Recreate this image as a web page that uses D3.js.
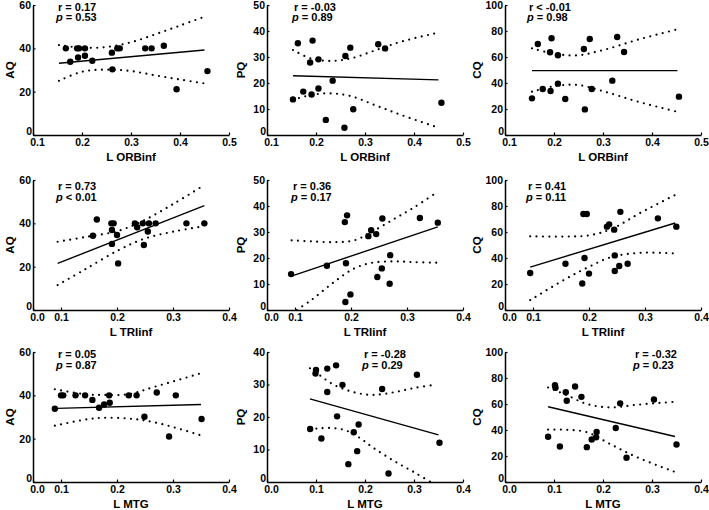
<!DOCTYPE html>
<html><head><meta charset="utf-8">
<script src="https://cdn.jsdelivr.net/npm/d3@7"></script>
<style>
body{margin:0;background:#fff;}
svg{display:block;font-family:"Liberation Sans",Arial,sans-serif;font-weight:bold;}
</style></head><body>
<svg id="chart" width="709" height="510"></svg>
<script>
// ---------- titles / ticks ----------
const rowTitles = ["L ORBinf", "L TRIinf", "L MTG"];
const colTitles = ["AQ", "PQ", "CQ"];

const xTicksORB = [0.1, 0.2, 0.3, 0.4, 0.5];
const xLabelsORB = ["0.1", "0.2", "0.3", "0.4", "0.5"];
const xTicksShort = [0.05, 0.1, 0.2, 0.3, 0.4];
const xLabelsShort = ["0.0", "0.1", "0.2", "0.3", "0.4"];
const xTicksFull = [0, 0.1, 0.2, 0.3, 0.4];
const xLabelsFull = ["0.0", "0.1", "0.2", "0.3", "0.4"];

const yTicksAQ = [0, 20, 40, 60];
const yTicksPQ50 = [0, 10, 20, 30, 40, 50];
const yTicksPQ40 = [0, 10, 20, 30, 40];
const yTicksCQ = [0, 20, 40, 60, 80, 100];

// ---------- row 1: L ORBinf ----------
const aqOrbX = [0.167,0.176,0.19,0.194,0.192,0.206,0.206,0.221,0.261,0.262,0.272,0.277,0.329,0.342,0.367,0.393,0.456];
const aqOrbY = [40,33.8,40,40,35.8,40,36.6,34.3,38,30.3,40,40,40,40,41.2,21.1,29.5];
const aqOrbFitX = [0.153, 0.45], aqOrbFitY = [33.1, 39.2];
const aqOrbCiX = [0.153, 0.2, 0.25, 0.3, 0.35, 0.4, 0.45];
const aqOrbCiUp = [41.5, 40.3, 40.6, 42.8, 46.5, 50.5, 54.6];
const aqOrbCiLo = [25, 29.2, 30.2, 29.5, 27.5, 25.6, 23.8];

const pqOrbX = [0.153,0.163,0.174,0.188,0.191,0.193,0.205,0.205,0.22,0.234,0.26,0.258,0.27,0.276,0.327,0.341,0.456];
const pqOrbY = [13.7,35.3,16.7,27.9,15.6,36.3,29.1,17.9,5.8,20.9,30.4,2.8,33.6,9.9,34.9,33.3,12.4];
const pqOrbFitX = [0.153, 0.45], pqOrbFitY = [22.8, 21.2];
const pqOrbCiX = [0.153, 0.19, 0.231, 0.272, 0.32, 0.374, 0.45];
const pqOrbCiUp = [32.7, 29.4, 28.5, 29.5, 32.5, 35.9, 39.4];
const pqOrbCiLo = [13.5, 15.4, 16, 14.9, 11.5, 7.7, 2.8];

const cqOrbX = [0.155,0.167,0.177,0.192,0.193,0.195,0.208,0.208,0.223,0.261,0.263,0.273,0.277,0.319,0.329,0.343,0.455];
const cqOrbY = [28.2,70,35.4,63.6,33.8,74.4,61.3,39.5,27.7,66.2,19.7,73.8,35.4,41.8,75.4,63.8,29.5];
const cqOrbFitX = [0.155, 0.452], cqOrbFitY = [49.5, 49.5];
const cqOrbCiX = [0.155, 0.2, 0.248, 0.302, 0.37, 0.452];
const cqOrbCiUp = [66.7, 62.5, 61.3, 65.5, 73.2, 81.3];
const cqOrbCiLo = [33.3, 37.5, 38.5, 33.5, 25.8, 17.8];

// ---------- row 2: L TRIinf ----------
const aqTriX = [0.164,0.157,0.19,0.194,0.191,0.191,0.2,0.202,0.232,0.236,0.246,0.248,0.255,0.257,0.269,0.324,0.356];
const aqTriY = [41.8,34.3,40,40,36.9,30.5,34.6,21.5,40,38.2,40,30,36.2,40,40,40,40];
const aqTriFitX = [0.094, 0.356], aqTriFitY = [21.5, 48.2];
const aqTriCiX = [0.094, 0.142, 0.202, 0.249, 0.303, 0.356];
const aqTriCiUp = [31.5, 33.6, 36.5, 41.5, 49.3, 57.7];
const aqTriCiLo = [11.5, 18.6, 27.5, 32.9, 36.3, 38.7];

const pqTriX = [0.093,0.157,0.189,0.193,0.191,0.19,0.199,0.231,0.236,0.245,0.256,0.247,0.255,0.27,0.269,0.323,0.355];
const pqTriY = [13.8,17,33.8,36.4,18,3.1,6,28.4,30.7,29.2,35.2,12.7,16,21.1,10.1,35.4,33.6];
const pqTriFitX = [0.095, 0.355], pqTriFitY = [13.1, 32];
const pqTriCiX = [0.094, 0.129, 0.17, 0.206, 0.236, 0.277, 0.313, 0.355];
const pqTriCiUp = [26.8, 26.4, 26.1, 26.8, 29.9, 35, 39.5, 45.5];
const pqTriCiLo = [-1.3, 3.8, 10.8, 16, 18.1, 18.7, 18.4, 18.2];

const cqTriX = [0.095,0.158,0.19,0.196,0.192,0.188,0.2,0.232,0.236,0.245,0.256,0.246,0.246,0.254,0.269,0.323,0.356];
const cqTriY = [28.5,35.6,73.8,73.8,40,20.4,28,64.1,65.9,61.8,75.5,42,30,33.8,35.6,70.5,64.1];
const cqTriFitX = [0.095, 0.354], cqTriFitY = [33, 66.9];
const cqTriCiX = [0.095, 0.157, 0.199, 0.24, 0.293, 0.354];
const cqTriCiUp = [56.7, 56.5, 57.3, 62.3, 75, 88.5];
const cqTriCiLo = [7.6, 23.5, 33, 40.7, 44, 43.5];

// ---------- row 3: L MTG ----------
const aqMtgX = [0.089,0.1,0.104,0.126,0.143,0.156,0.168,0.177,0.187,0.186,0.221,0.235,0.249,0.271,0.293,0.305,0.351];
const aqMtgY = [33.8,40,40,40,40,37.9,34.3,35.8,36.6,40,40,40,30.1,41.3,21,40,29.1];
const aqMtgFitX = [0.092, 0.35], aqMtgFitY = [34, 35.8];
const aqMtgCiX = [0.089, 0.143, 0.173, 0.22, 0.268, 0.35];
const aqMtgCiUp = [42.8, 40.5, 40.2, 40.5, 44, 50.2];
const aqMtgCiLo = [26, 28.8, 29.6, 29.3, 27.5, 21.5];

const pqMtgX = [0.088,0.1,0.099,0.111,0.123,0.123,0.141,0.143,0.154,0.166,0.177,0.184,0.187,0.235,0.248,0.306,0.352];
const pqMtgY = [16.3,34.5,33.4,13.4,34.9,27.7,35.9,20.2,29.9,5.5,15.3,9.5,17.7,28.6,2.6,33,12.1];
const pqMtgFitX = [0.0876, 0.35], pqMtgFitY = [25.6, 14.5];
const pqMtgCiX = [0.0876, 0.107, 0.134, 0.162, 0.19, 0.217, 0.259, 0.3, 0.343];
const pqMtgCiUp = [35, 32.9, 30.1, 28.3, 27.2, 26.8, 27.6, 28.9, 29.9];
const pqMtgCiLo = [16.3, 16.5, 16.6, 15.8, 13.5, 10.5, 6.5, 3, -0.8];

const cqMtgX = [0.088,0.102,0.103,0.112,0.124,0.126,0.143,0.156,0.167,0.177,0.186,0.187,0.226,0.235,0.248,0.304,0.35];
const cqMtgY = [34.8,74.5,72.5,27.3,69,62.5,73.5,65.5,26.8,32.7,34.4,38.5,41.5,60.5,18.6,63.5,28.8];
const cqMtgFitX = [0.088, 0.347], cqMtgFitY = [57.9, 35];
const cqMtgCiX = [0.088, 0.126, 0.167, 0.214, 0.269, 0.347];
const cqMtgCiUp = [72.7, 66.8, 60, 57.4, 59.4, 61.7];
const cqMtgCiLo = [40.3, 40.2, 38.3, 29.3, 19.1, 7.7];

// ---------- statistics text ----------
const rTexts = ["r = 0.17","r = -0.03","r < -0.01","r = 0.73","r = 0.36","r = 0.41","r = 0.05","r = -0.28","r = -0.32"];
const pTexts = [" = 0.53"," = 0.89"," = 0.98"," < 0.01"," = 0.17"," = 0.11"," = 0.87"," = 0.29"," = 0.23"];

// ---------- panel table ----------
const panels = [
  {x:aqOrbX,y:aqOrbY,fx:aqOrbFitX,fy:aqOrbFitY,cx:aqOrbCiX,cu:aqOrbCiUp,cl:aqOrbCiLo,xd:[0.1,0.5],xt:xTicksORB,xl:xLabelsORB,yd:[0,60],yt:yTicksAQ},
  {x:pqOrbX,y:pqOrbY,fx:pqOrbFitX,fy:pqOrbFitY,cx:pqOrbCiX,cu:pqOrbCiUp,cl:pqOrbCiLo,xd:[0.1,0.5],xt:xTicksORB,xl:xLabelsORB,yd:[0,50],yt:yTicksPQ50},
  {x:cqOrbX,y:cqOrbY,fx:cqOrbFitX,fy:cqOrbFitY,cx:cqOrbCiX,cu:cqOrbCiUp,cl:cqOrbCiLo,xd:[0.1,0.5],xt:xTicksORB,xl:xLabelsORB,yd:[0,100],yt:yTicksCQ},
  {x:aqTriX,y:aqTriY,fx:aqTriFitX,fy:aqTriFitY,cx:aqTriCiX,cu:aqTriCiUp,cl:aqTriCiLo,xd:[0.05,0.4],xt:xTicksShort,xl:xLabelsShort,yd:[0,60],yt:yTicksAQ},
  {x:pqTriX,y:pqTriY,fx:pqTriFitX,fy:pqTriFitY,cx:pqTriCiX,cu:pqTriCiUp,cl:pqTriCiLo,xd:[0.05,0.4],xt:xTicksShort,xl:xLabelsShort,yd:[0,50],yt:yTicksPQ50},
  {x:cqTriX,y:cqTriY,fx:cqTriFitX,fy:cqTriFitY,cx:cqTriCiX,cu:cqTriCiUp,cl:cqTriCiLo,xd:[0.05,0.4],xt:xTicksShort,xl:xLabelsShort,yd:[0,100],yt:yTicksCQ},
  {x:aqMtgX,y:aqMtgY,fx:aqMtgFitX,fy:aqMtgFitY,cx:aqMtgCiX,cu:aqMtgCiUp,cl:aqMtgCiLo,xd:[0.05,0.4],xt:xTicksShort,xl:xLabelsShort,yd:[0,60],yt:yTicksAQ},
  {x:pqMtgX,y:pqMtgY,fx:pqMtgFitX,fy:pqMtgFitY,cx:pqMtgCiX,cu:pqMtgCiUp,cl:pqMtgCiLo,xd:[0,0.4],xt:xTicksFull,xl:xLabelsFull,yd:[0,40],yt:yTicksPQ40},
  {x:cqMtgX,y:cqMtgY,fx:cqMtgFitX,fy:cqMtgFitY,cx:cqMtgCiX,cu:cqMtgCiUp,cl:cqMtgCiLo,xd:[0,0.4],xt:xTicksFull,xl:xLabelsFull,yd:[0,100],yt:yTicksCQ}
];

// ---------- layout ----------
const colLeft = [33, 267, 505];
const rowTop = [5, 180, 352];
const W = 196, H = 130;
const yTitleOff = [23, 26, 28];
const annXOff = [[25,27,24],[25,26,23],[25,97,130]];
const annYOff = [5.5, 10, 6];
const fontFam = '"Liberation Sans",Arial,sans-serif';

const svg = d3.select("#chart");

panels.forEach((p, i) => {
  const row = Math.floor(i / 3), col = i % 3;
  const g = svg.append("g").attr("transform", `translate(${colLeft[col]},${rowTop[row]})`);
  const x = d3.scaleLinear().domain(p.xd).range([0, W]);
  const y = d3.scaleLinear().domain(p.yd).range([H, 0]);

  const clipId = "clip" + i;
  g.append("clipPath").attr("id", clipId).append("rect")
    .attr("x", 0).attr("y", -2).attr("width", W).attr("height", H + 2);

  // axes
  const xa = g.append("g").attr("transform", `translate(0,${H})`)
    .call(d3.axisBottom(x).tickValues(p.xt).tickFormat((d, k) => p.xl[k])
      .tickSize(-2.5).tickSizeOuter(0).tickPadding(3.5));
  const ya = g.append("g")
    .call(d3.axisLeft(y).tickValues(p.yt).tickFormat(d3.format("d"))
      .tickSize(-2.5).tickSizeOuter(0).tickPadding(2));
  [xa, ya].forEach(a => {
    a.select(".domain").attr("stroke", "#000").attr("stroke-width", 1.5);
    a.selectAll(".tick line").attr("stroke", "#000").attr("stroke-width", 1.2);
    a.selectAll(".tick text").attr("fill", "#000").style("font-size", "10.5px")
      .style("font-weight", "bold").style("font-family", fontFam);
  });
  // origin labels nudged apart, as in the reference
  xa.selectAll(".tick text").filter((d, k) => k === 0).attr("dx", 4);
  ya.selectAll(".tick text").filter(d => d === 0).attr("dy", "-0.05em").attr("x", -1);

  // confidence bands
  const ciLine = d3.line().curve(d3.curveCatmullRom.alpha(0.5));
  const up = p.cx.map((v, k) => [x(v), y(p.cu[k])]);
  const lo = p.cx.map((v, k) => [x(v), y(p.cl[k])]);
  [up, lo].forEach(pts => {
    g.append("path").attr("d", ciLine(pts)).attr("clip-path", `url(#${clipId})`)
      .attr("fill", "none").attr("stroke", "#000").attr("stroke-width", 2.2)
      .attr("stroke-linecap", "round").attr("stroke-dasharray", "0,6.4");
  });

  // fit line
  g.append("line")
    .attr("x1", x(p.fx[0])).attr("y1", y(p.fy[0]))
    .attr("x2", x(p.fx[1])).attr("y2", y(p.fy[1]))
    .attr("stroke", "#000").attr("stroke-width", 1.4);

  // points
  g.selectAll("circle.pt").data(p.x.map((v, k) => [v, p.y[k]])).enter()
    .append("circle").attr("class", "pt")
    .attr("cx", d => x(d[0])).attr("cy", d => y(d[1])).attr("r", 3.2).attr("fill", "#000");

  // axis titles
  g.append("text").attr("x", W / 2).attr("y", H + 26).attr("text-anchor", "middle")
    .style("font-size", "11.5px").text(rowTitles[row]);
  g.append("text").attr("transform", `translate(${-yTitleOff[col]},${H / 2}) rotate(-90)`)
    .attr("text-anchor", "middle").attr("dy", "0.35em")
    .style("font-size", "11.5px").text(colTitles[col]);

  // stats
  const ax = annXOff[row][col], ay = annYOff[row];
  g.append("text").attr("x", ax).attr("y", ay).style("font-size", "11px").text(rTexts[i]);
  const pt = g.append("text").attr("x", ax - 2).attr("y", ay + 10.5).style("font-size", "11px");
  pt.append("tspan").style("font-style", "italic").text("p");
  pt.append("tspan").text(pTexts[i]);
});
</script>
</body></html>
